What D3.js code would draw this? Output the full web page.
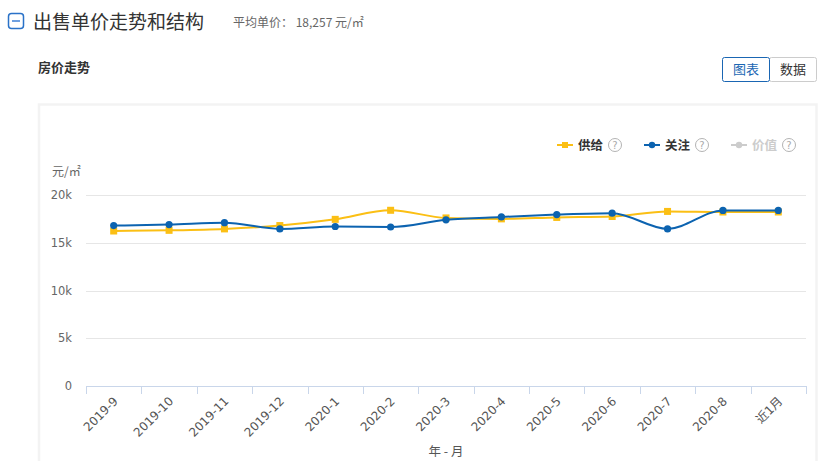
<!DOCTYPE html>
<html><head><meta charset="utf-8">
<script src="https://cdn.jsdelivr.net/npm/d3@7"></script>
<style>
body{margin:0;background:#fff;font-family:"Microsoft YaHei","Noto Sans CJK SC",sans-serif;}
svg{display:block;}
</style></head><body>
<svg id="c" width="837" height="461"></svg>
<script>
const categories = ["2019-9","2019-10","2019-11","2019-12","2020-1","2020-2","2020-3","2020-4","2020-5","2020-6","2020-7","2020-8","近1月"];
const supply = [16230,16300,16450,16800,17450,18400,17600,17500,17650,17750,18280,18220,18220];
const attention = [16800,16900,17100,16450,16700,16650,17400,17700,17950,18100,16450,18380,18380];
const yTicks = [0,5000,10000,15000,20000];
const yTickLabels = ["0","5k","10k","15k","20k"];
const legendItems = [{name:"供给",color:"#fbbf14",shape:"square"},{name:"关注",color:"#0c63b0",shape:"circle"},{name:"价值",color:"#cccccc",shape:"circle"}];

const svg = d3.select("#c");
const font = '"Microsoft YaHei","Noto Sans CJK SC",sans-serif';
const latin = '"DejaVu Sans","Noto Sans CJK SC",sans-serif';

// header
svg.append("rect").attr("x",8.5).attr("y",13.5).attr("width",15).attr("height",15).attr("rx",3)
  .attr("fill","none").attr("stroke","#2a72c8").attr("stroke-width",1.5);
svg.append("line").attr("x1",12).attr("x2",20).attr("y1",21).attr("y2",21).attr("stroke","#6fa0e0").attr("stroke-width",2);
svg.append("text").attr("x",33).attr("y",29).attr("font-size",19).attr("fill","#333").attr("font-family",font).text("出售单价走势和结构");
svg.append("text").attr("x",233).attr("y",27).attr("font-size",12).attr("fill","#666").attr("font-family",font).text("平均单价：  18,257 元/㎡");
svg.append("text").attr("x",38).attr("y",72).attr("font-size",13).attr("font-weight","bold").attr("fill","#333").attr("font-family",font).text("房价走势");

// buttons
svg.append("rect").attr("x",769.5).attr("y",57.5).attr("width",47).attr("height",24).attr("rx",2).attr("fill","#fff").attr("stroke","#ccc");
svg.append("rect").attr("x",722.5).attr("y",57.5).attr("width",47).attr("height",24).attr("rx",2).attr("fill","#fff").attr("stroke","#1a66b3");
svg.append("text").attr("x",746).attr("y",74).attr("text-anchor","middle").attr("font-size",13).attr("fill","#1a66b3").attr("font-family",font).text("图表");
svg.append("text").attr("x",793).attr("y",74).attr("text-anchor","middle").attr("font-size",13).attr("fill","#333").attr("font-family",font).text("数据");

// panel
svg.append("path").attr("d","M39,461 V104.5 H816.5 V461").attr("fill","none").attr("stroke","#f3f3f3").attr("stroke-width",2.5);

// scales
const x = d3.scaleBand().domain(categories).range([86,806]);
const y = d3.scaleLinear().domain([0,20000]).range([386,195]);
const cx = d => x(d)+x.bandwidth()/2;

// grid
const g = svg.append("g");
g.selectAll("line.grid").data(yTicks.slice(1)).join("line").attr("class","grid")
  .attr("x1",86).attr("x2",806).attr("y1",d=>Math.round(y(d))+0.5).attr("y2",d=>Math.round(y(d))+0.5)
  .attr("stroke","#e6e6e6");
g.selectAll("text.yt").data(yTicks).join("text").attr("class","yt")
  .attr("x",72).attr("y",d=>y(d)+4).attr("text-anchor","end").attr("font-size",11.5).attr("fill","#666").attr("font-family",latin)
  .text((d,i)=>yTickLabels[i]);
svg.append("text").attr("x",52).attr("y",176).attr("font-size",12).attr("fill","#666").attr("font-family",font).text("元/㎡");

// x axis
const xAxis = d3.axisBottom(x).tickSize(0).tickFormat("");
const ax = svg.append("g").attr("transform","translate(0,386.5)").call(xAxis);
ax.select(".domain").attr("stroke","#c9d6ea").attr("d","M86,0H806");
const bounds = categories.map(c=>x(c)).concat([806]);
svg.selectAll("line.xt").data(bounds).join("line").attr("class","xt")
  .attr("x1",d=>Math.round(d)+0.5).attr("x2",d=>Math.round(d)+0.5).attr("y1",386).attr("y2",394).attr("stroke","#c9d6ea");
svg.selectAll("text.xl").data(categories).join("text").attr("class","xl")
  .attr("transform",d=>`translate(${cx(d)+2},399) rotate(-45)`)
  .attr("text-anchor","end").attr("dy","0.35em").attr("font-size",12).attr("fill","#555").attr("font-family",latin).text(d=>d);
svg.append("text").attr("x",446).attr("y",456).attr("text-anchor","middle").attr("font-size",12.5).attr("fill","#555").attr("font-family",font).attr("xml:space","preserve").text("年 - 月");

// lines
const line = d3.line().x((d,i)=>cx(categories[i])).y(d=>y(d)).curve(d3.curveMonotoneX);
svg.append("path").datum(supply).attr("d",line).attr("fill","none").attr("stroke","#fbbf14").attr("stroke-width",2);
svg.selectAll("rect.sp").data(supply).join("rect").attr("class","sp")
  .attr("x",(d,i)=>cx(categories[i])-3.5).attr("y",d=>y(d)-3.5).attr("width",7).attr("height",7).attr("fill","#fbbf14");
svg.append("path").datum(attention).attr("d",line).attr("fill","none").attr("stroke","#0c63b0").attr("stroke-width",2);
svg.selectAll("circle.at").data(attention).join("circle").attr("class","at")
  .attr("cx",(d,i)=>cx(categories[i])).attr("cy",d=>y(d)).attr("r",3.6).attr("fill","#0c63b0");

// legend
const lx = [557,644,731];
legendItems.forEach((it,i)=>{
  const gx = lx[i], gy = 145;
  svg.append("line").attr("x1",gx).attr("x2",gx+16).attr("y1",gy).attr("y2",gy).attr("stroke",it.color).attr("stroke-width",2);
  if(it.shape==="square") svg.append("rect").attr("x",gx+5).attr("y",gy-3).attr("width",6).attr("height",6).attr("fill",it.color);
  else svg.append("circle").attr("cx",gx+8).attr("cy",gy).attr("r",3.2).attr("fill",it.color);
  svg.append("text").attr("x",gx+21).attr("y",gy+4.5).attr("font-size",12.5).attr("font-weight","bold")
    .attr("fill",i===2?"#ccc":"#333").attr("font-family",font).text(it.name);
  svg.append("circle").attr("cx",gx+58).attr("cy",gy).attr("r",6.5).attr("fill","none").attr("stroke","#aaa").attr("stroke-width",0.9);
  svg.append("text").attr("x",gx+58).attr("y",gy+3.8).attr("text-anchor","middle").attr("font-size",10).attr("fill","#aaa").attr("font-family",latin).text("?");
});
</script></body></html>
